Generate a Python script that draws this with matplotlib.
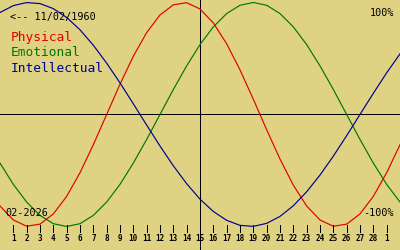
import matplotlib
matplotlib.use("Agg")
import matplotlib.pyplot as plt

# day positions on the chart (0 = left edge, 30 = right edge)
days = list(range(31))

# values, -1..1
physical = [-0.817, -0.942, -0.998, -0.979, -0.888, -0.731, -0.520, -0.270,
            0.0, 0.270, 0.520, 0.731, 0.888, 0.979, 0.998, 0.942, 0.817,
            0.631, 0.398, 0.136, -0.136, -0.398, -0.631, -0.817, -0.942,
            -0.998, -0.979, -0.888, -0.731, -0.520, -0.270]
emotional = [-0.434, -0.624, -0.782, -0.901, -0.975, -1.0, -0.975, -0.901,
             -0.782, -0.624, -0.434, -0.223, 0.0, 0.223, 0.434, 0.624, 0.782,
             0.901, 0.975, 1.0, 0.975, 0.901, 0.782, 0.624, 0.434, 0.223,
             0.0, -0.223, -0.434, -0.624, -0.782]
intellectual = [0.910, 0.972, 0.999, 0.990, 0.945, 0.866, 0.756, 0.618,
                0.458, 0.282, 0.095, -0.095, -0.282, -0.458, -0.618, -0.756,
                -0.866, -0.945, -0.990, -0.999, -0.972, -0.910, -0.815,
                -0.690, -0.541, -0.372, -0.189, 0.0, 0.189, 0.372, 0.541]

tick_pos = list(range(1, 30))
tick_labels = [str(d) for d in range(1, 29)] + ["1"]

series_names = ["Physical", "Emotional", "Intellectual"]
colors = ["#e00000", "#007800", "#000090"]

birth_label = "<-- 11/02/1960"
month_label = "02-2026"
today = 15

bg = "#e0d283"
mono = "DejaVu Sans Mono"

fig = plt.figure(figsize=(4, 2.5), dpi=100, facecolor=bg)
ax = fig.add_axes([0, 0, 1, 1])
ax.set_facecolor(bg)
ax.set_xlim(0, 30)
ax.set_ylim(-1.21, 1.022)
ax.axis("off")

# axes cross
ax.axhline(0, color="black", lw=0.72, antialiased=False)
ax.axvline(today, color="black", lw=0.72, antialiased=False)

for vals, c in zip([physical, emotional, intellectual], colors):
    ax.plot(days, vals, color=c, lw=0.85)

# day ticks along the bottom
tr = ax.get_xaxis_transform()
ax.vlines(tick_pos, 0.074, 0.1, transform=tr, color="black", lw=0.72,
          antialiased=False)
for p, lab in zip(tick_pos, tick_labels):
    ax.text(p, 0.046, lab, transform=tr, ha="center", va="center",
            fontsize=5.5, family=mono, fontweight="bold")

# legend as coloured text
for i, (name, c) in enumerate(zip(series_names, colors)):
    fig.text(11 / 400, 1 - (38 + 15 * i) / 250, name, color=c,
             fontsize=9.3, family=mono, va="center", ha="left")

fig.text(10 / 400, 1 - 17 / 250, birth_label, fontsize=7.3, family=mono,
         va="center", ha="left")
fig.text(5 / 400, 1 - 213 / 250, month_label, fontsize=7.3, family=mono,
         va="center", ha="left")
fig.text(394 / 400, 1 - 13 / 250, "100%", fontsize=7.3, family=mono,
         va="center", ha="right")
fig.text(394 / 400, 1 - 213 / 250, "-100%", fontsize=7.3, family=mono,
         va="center", ha="right")

fig.savefig("out.png", dpi=100, facecolor=bg)
